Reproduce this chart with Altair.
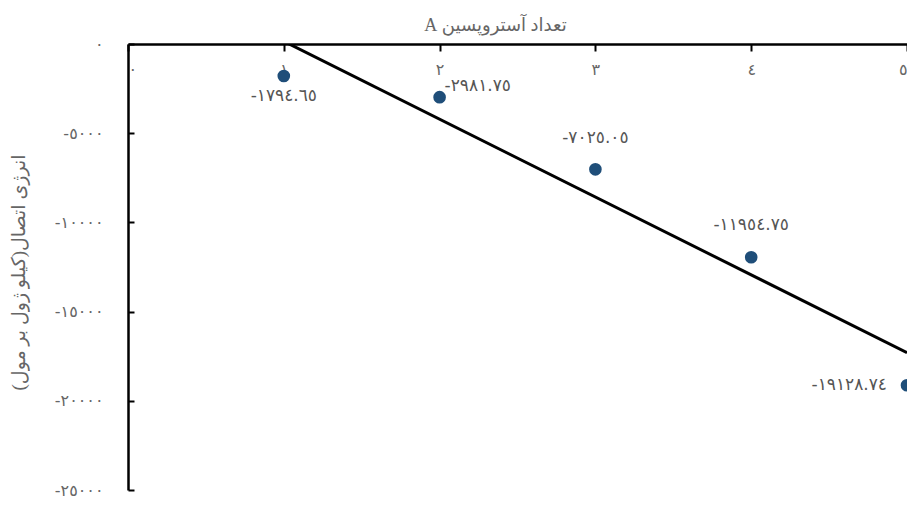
import altair as alt
import pandas as pd

# data
astro_count = [1, 2, 3, 4, 5]
binding_energy = [-1794.65, -2981.75, -7025.05, -11954.75, -19128.74]
x_ticks = [0, 1, 2, 3, 4, 5]
y_ticks = [0, -5000, -10000, -15000, -20000, -25000]

DIG = "٠١٢٣٤٥٦٧٨٩"


def ar(s):
    return "".join(DIG[int(c)] if c.isdigit() else c for c in s)


labels = [ar(f"{v:.2f}") for v in binding_energy]
df = pd.DataFrame({"x": astro_count, "y": binding_energy, "label": labels,
                   "i": list(range(len(astro_count)))})

expr = "toString(datum.value)"
for d in range(10):
    expr = f"replace({expr}, regexp('{d}','g'), '{DIG[d]}')"

W, H = 779, 446
GRAY = "#666666"
FONT = "DejaVu Sans"
TFONT = "Liberation Serif, DejaVu Sans"

x_axis = alt.Axis(
    orient="bottom", offset=-H, values=x_ticks, labelExpr=expr,
    title="\u202bتعداد آستروپسین A\u202c", titleY=-14, titleX=367,
    titleAlign="center", titleBaseline="alphabetic",
    titleFontSize=18, titleColor=GRAY, titleFontWeight="normal", titleFont=TFONT,
    domainColor="black", domainWidth=2.5, tickColor="black", tickWidth=2,
    tickSize=7, labelPadding=10, grid=False, labelFontSize=16,
    labelColor=GRAY, labelFont=FONT,
)
y_axis = alt.Axis(
    orient="right", offset=-W, values=y_ticks, labelExpr=expr,
    labelAlign="right", labelBaseline="middle", labelPadding=-31,
    tickSize=6, tickColor="black", tickWidth=2,
    domainColor="black", domainWidth=2.5, grid=False,
    labelFontSize=16, labelColor=GRAY, labelFont=FONT,
    title="\u202bانرژی اتصال(کیلو ژول بر مول)\u202c", titleAngle=270,
    titleX=-110, titleY=228, titleAlign="center", titleBaseline="middle",
    titleFontSize=19, titleColor=GRAY, titleFontWeight="normal", titleFont=TFONT,
)

xs = alt.X("x:Q", scale=alt.Scale(domain=[0, 5], nice=False), axis=x_axis)
ys = alt.Y("y:Q", scale=alt.Scale(domain=[-25000, 0], nice=False), axis=y_axis)

base = alt.Chart(df)

line = base.transform_regression("x", "y", extent=[0, 5]).mark_line(
    clip=True, color="black", strokeWidth=3
).encode(x=xs, y=ys)

points = base.mark_circle(size=160, color="#1f4e79", opacity=1).encode(x=xs, y=ys)

label_specs = [
    dict(align="center", dx=0, dy=20),
    dict(align="left", dx=5, dy=-11),
    dict(align="center", dx=0, dy=-31),
    dict(align="center", dx=0, dy=-32),
    dict(align="right", dx=-20, dy=0),
]
texts = []
for k, spec in enumerate(label_specs):
    texts.append(
        base.transform_filter(alt.datum.i == k).mark_text(
            font=FONT, fontSize=17, color="#555555", baseline="middle", **spec
        ).encode(x=xs, y=ys, text="label:N")
    )

chart = alt.layer(line, points, *texts).properties(
    width=W, height=H,
    autosize=alt.AutoSizeParams(type="none"),
    padding={"left": 120, "top": 36, "right": 0, "bottom": 9},
).configure_view(strokeWidth=0)

chart.save("out.html", embed_options={"renderer": "svg", "actions": False})
